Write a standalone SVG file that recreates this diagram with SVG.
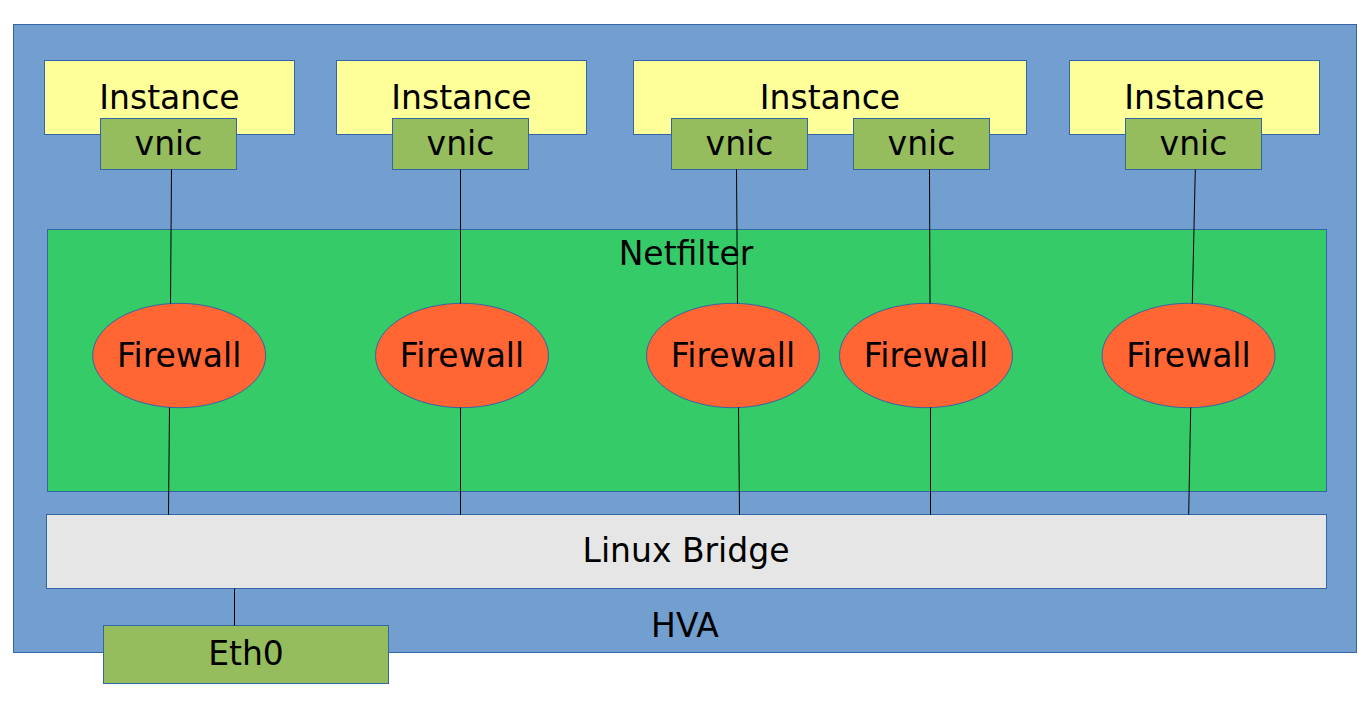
<svg xmlns="http://www.w3.org/2000/svg" width="1372" height="710" viewBox="0 0 1372 710">
<style>
.box{stroke:#3465a4;stroke-width:1}
.inst{fill:#ffff99}
.vnic{fill:#95bd5e}
.fw{fill:#ff6633;stroke:#3465a4;stroke-width:1}
.t{font-family:"DejaVu Sans",sans-serif;font-size:33px;fill:#000;text-anchor:middle}
.c{stroke:#000;stroke-width:1;fill:none}
</style>
<rect width="1372" height="710" fill="#ffffff"/>
<g id="hva">
<rect class="box" x="13.5" y="24.5" width="1343" height="628" fill="#729fcf"/>
<text class="t" x="685" y="637">HVA</text>
</g>
<g id="netfilter">
<rect class="box" x="47.5" y="229.5" width="1279" height="262" fill="#35cb69"/>
<text class="t" x="686" y="265">Netfilter</text>
</g>
<g id="bridge">
<rect class="box" x="46.5" y="514.5" width="1280" height="74" fill="#e6e6e6"/>
<text class="t" x="686" y="562">Linux Bridge</text>
</g>
<g id="instance1">
<rect class="box inst" x="44.5" y="60.5" width="250" height="74"/>
<text class="t" x="169.5" y="109">Instance</text>
</g>
<g id="instance2">
<rect class="box inst" x="336.5" y="60.5" width="250" height="74"/>
<text class="t" x="461.5" y="109">Instance</text>
</g>
<g id="instance3">
<rect class="box inst" x="633.5" y="60.5" width="393" height="74"/>
<text class="t" x="830" y="109">Instance</text>
</g>
<g id="instance4">
<rect class="box inst" x="1069.5" y="60.5" width="250" height="74"/>
<text class="t" x="1194.5" y="109">Instance</text>
</g>
<g id="vnic1">
<rect class="box vnic" x="100.5" y="118.5" width="136" height="51"/>
<text class="t" x="168.5" y="155">vnic</text>
</g>
<g id="vnic2">
<rect class="box vnic" x="392.5" y="118.5" width="136" height="51"/>
<text class="t" x="460.5" y="155">vnic</text>
</g>
<g id="vnic3">
<rect class="box vnic" x="671.5" y="118.5" width="136" height="51"/>
<text class="t" x="739.5" y="155">vnic</text>
</g>
<g id="vnic4">
<rect class="box vnic" x="853.5" y="118.5" width="136" height="51"/>
<text class="t" x="921.5" y="155">vnic</text>
</g>
<g id="vnic5">
<rect class="box vnic" x="1125.5" y="118.5" width="136" height="51"/>
<text class="t" x="1193.5" y="155">vnic</text>
</g>
<g id="firewall1">
<ellipse class="fw" cx="179.2" cy="355.5" rx="86.5" ry="52.2"/>
<text class="t" x="179.2" y="367">Firewall</text>
</g>
<g id="firewall2">
<ellipse class="fw" cx="462" cy="355.5" rx="86.5" ry="52.2"/>
<text class="t" x="462" y="367">Firewall</text>
</g>
<g id="firewall3">
<ellipse class="fw" cx="733" cy="355.5" rx="86.5" ry="52.2"/>
<text class="t" x="733" y="367">Firewall</text>
</g>
<g id="firewall4">
<ellipse class="fw" cx="926" cy="355.5" rx="86.5" ry="52.2"/>
<text class="t" x="926" y="367">Firewall</text>
</g>
<g id="firewall5">
<ellipse class="fw" cx="1188.5" cy="355.5" rx="86.5" ry="52.2"/>
<text class="t" x="1188.5" y="367">Firewall</text>
</g>
<g id="eth0">
<rect class="box vnic" x="103.5" y="625.5" width="285" height="58"/>
<text class="t" x="246" y="665">Eth0</text>
</g>
<g id="connectors">
<line class="c" x1="171.5" y1="169.5" x2="170.5" y2="303.5"/>
<line class="c" x1="169.5" y1="407.5" x2="168.5" y2="514.5"/>
<line class="c" x1="460.5" y1="169.5" x2="460.5" y2="303.5"/>
<line class="c" x1="460.5" y1="407.5" x2="460.5" y2="514.5"/>
<line class="c" x1="736.5" y1="169.5" x2="737.5" y2="303.5"/>
<line class="c" x1="738.5" y1="407.5" x2="739.5" y2="514.5"/>
<line class="c" x1="929.5" y1="169.5" x2="930" y2="303.5"/>
<line class="c" x1="930.5" y1="407.5" x2="930.5" y2="514.5"/>
<line class="c" x1="1195.3" y1="169.5" x2="1192.3" y2="303.5"/>
<line class="c" x1="1190.7" y1="407.5" x2="1188.7" y2="514.5"/>
<line class="c" x1="234.5" y1="588.5" x2="234.5" y2="625.5"/>
</g>
</svg>
